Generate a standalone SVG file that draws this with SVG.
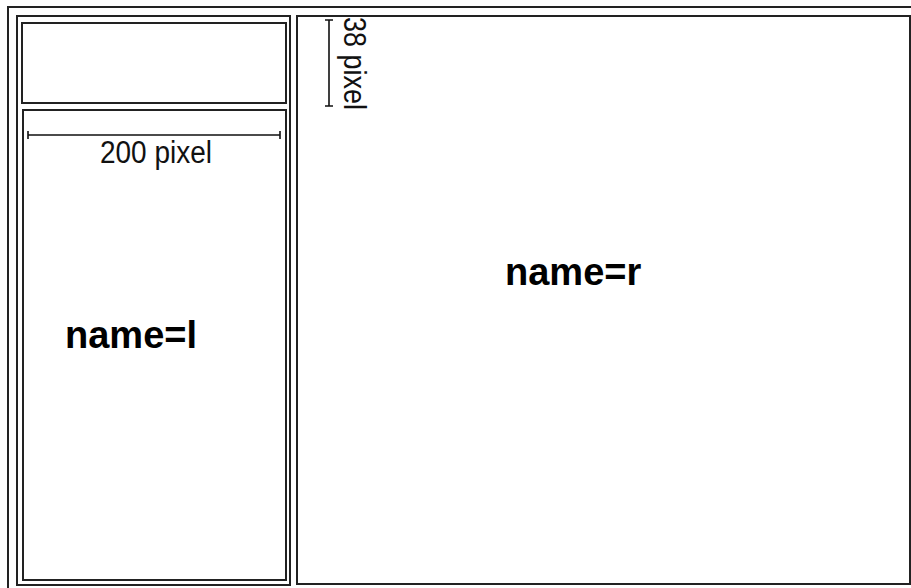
<svg xmlns="http://www.w3.org/2000/svg" width="911" height="588" viewBox="0 0 911 588">
<style>
.frame{fill:none;stroke:#222;stroke-width:2}
.dim{fill:none;stroke:#111;stroke-width:1.6}
.lbl{font-family:"Liberation Sans",Arial,sans-serif;font-size:31px;fill:#111}
.big{font-family:"Liberation Sans",Arial,sans-serif;font-size:38px;font-weight:bold;fill:#000}
</style>
<rect width="911" height="588" fill="#fff"/>
<g id="outer"><rect class="frame" x="8" y="7" width="920" height="600"/></g>
<g id="leftframe"><rect class="frame" x="17" y="16" width="273" height="569"/></g>
<g id="topbox"><rect class="frame" x="22" y="23" width="264" height="80"/></g>
<g id="l">
<rect class="frame" x="23" y="110" width="263" height="470"/>
<text class="big" x="65" y="348">name=l</text>
</g>
<g id="r">
<rect class="frame" x="297" y="16" width="613" height="568"/>
<text class="big" x="505" y="285">name=r</text>
</g>
<g id="connectors">
<path class="dim" d="M28,135 H280 M28,131 V139 M280,131 V139"/>
<path class="dim" d="M329,20 V106 M325,20 H333 M325,106 H333"/>
</g>
<g id="dimlabels">
<text class="lbl" x="100" y="163" textLength="112" lengthAdjust="spacingAndGlyphs">200 pixel</text>
<text class="lbl" transform="translate(344,17) rotate(90)" x="0" y="0" textLength="93" lengthAdjust="spacingAndGlyphs">38 pixel</text>
</g>
</svg>
